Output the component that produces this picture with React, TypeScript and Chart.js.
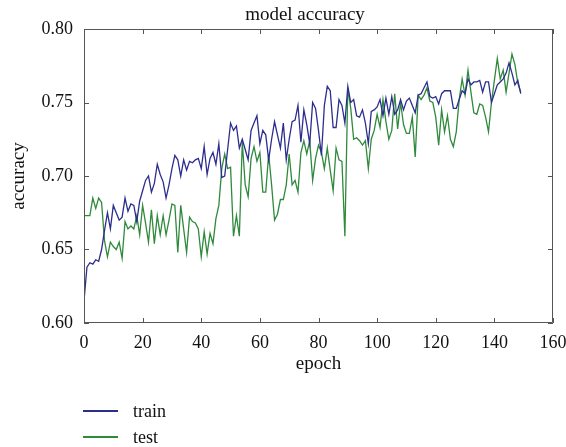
import React, { useEffect, useRef } from "react";
import { Chart, registerables } from "chart.js";

Chart.register(...registerables);

const TITLE = "model accuracy";
const X_LABEL = "epoch";
const Y_LABEL = "accuracy";
const SERIES_NAMES = ["train", "test"];
const X_TICKS = [0, 20, 40, 60, 80, 100, 120, 140, 160];
const Y_TICKS = [0.6, 0.65, 0.7, 0.75, 0.8];

const TRAIN = [
  0.615, 0.638, 0.641, 0.64, 0.643, 0.642, 0.65, 0.663, 0.675, 0.664,
  0.68, 0.675, 0.67, 0.672, 0.685, 0.676, 0.681, 0.68, 0.669, 0.683,
  0.69, 0.697, 0.7, 0.689, 0.695, 0.708, 0.701, 0.696, 0.685, 0.694,
  0.705, 0.714, 0.711, 0.7, 0.711, 0.704, 0.71, 0.709, 0.711, 0.712,
  0.705, 0.72, 0.701, 0.712, 0.716, 0.708, 0.722, 0.699, 0.7, 0.718,
  0.736, 0.731, 0.734, 0.719, 0.725, 0.718, 0.711, 0.731, 0.736, 0.741,
  0.722, 0.731, 0.728, 0.711, 0.725, 0.737, 0.728, 0.719, 0.736, 0.711,
  0.725, 0.737, 0.738, 0.748, 0.723, 0.745, 0.735, 0.722, 0.75, 0.746,
  0.731, 0.714, 0.748, 0.761, 0.758, 0.733, 0.733, 0.752, 0.748, 0.736,
  0.761, 0.75, 0.752, 0.741, 0.74, 0.745, 0.736, 0.722, 0.744, 0.745,
  0.747, 0.752, 0.741, 0.753, 0.742, 0.754, 0.742, 0.745, 0.752, 0.745,
  0.751, 0.753, 0.748, 0.743, 0.755, 0.756, 0.76, 0.764, 0.754, 0.753,
  0.754, 0.749, 0.756, 0.758, 0.758, 0.758, 0.746, 0.746, 0.752, 0.758,
  0.756, 0.766, 0.762, 0.764, 0.764, 0.765, 0.757, 0.764, 0.764, 0.75,
  0.756, 0.762, 0.764, 0.766, 0.77, 0.777, 0.77, 0.762, 0.765, 0.756,
];

const TEST = [
  0.673, 0.673, 0.673, 0.685, 0.678, 0.685, 0.682, 0.656, 0.645, 0.655,
  0.652, 0.65, 0.655, 0.644, 0.669, 0.664, 0.666, 0.664, 0.673, 0.66,
  0.68, 0.668, 0.655, 0.677, 0.654, 0.673, 0.66, 0.673, 0.66, 0.67,
  0.681, 0.68, 0.648, 0.68, 0.664, 0.648, 0.672, 0.669, 0.668, 0.664,
  0.645, 0.662, 0.647, 0.661, 0.654, 0.671, 0.68, 0.705, 0.715, 0.705,
  0.706, 0.659, 0.673, 0.659, 0.723, 0.694, 0.686, 0.712, 0.72, 0.71,
  0.716, 0.689, 0.689, 0.715, 0.694, 0.67, 0.674, 0.684, 0.684, 0.694,
  0.715, 0.694, 0.697, 0.689, 0.716, 0.724, 0.715, 0.724, 0.697, 0.712,
  0.721, 0.716, 0.705, 0.719, 0.704, 0.69, 0.719, 0.711, 0.71, 0.659,
  0.76, 0.746, 0.725, 0.726, 0.724, 0.721, 0.724, 0.705, 0.725, 0.731,
  0.742, 0.733, 0.752, 0.737, 0.725, 0.731, 0.756, 0.732, 0.75, 0.735,
  0.729, 0.729, 0.74, 0.713, 0.755, 0.752, 0.755, 0.76, 0.751, 0.75,
  0.74, 0.721, 0.745, 0.73, 0.741, 0.725, 0.72, 0.73, 0.752, 0.766,
  0.755, 0.772, 0.757, 0.743, 0.742, 0.749, 0.748, 0.74, 0.73, 0.75,
  0.765, 0.78, 0.766, 0.772, 0.757, 0.77, 0.783, 0.776, 0.763, 0.757,
];

const COLORS = ["#2c2e8e", "#2f8a3c"];
const FONT = "'Liberation Serif', 'Times New Roman', serif";
const AXIS_COLOR = "#555555";

const frameTicks = {
  id: "frameTicks",
  afterDraw(chart: any) {
    const { ctx, chartArea, scales } = chart;
    const { left, right, top, bottom } = chartArea;
    const L = 5;
    ctx.save();
    ctx.strokeStyle = AXIS_COLOR;
    ctx.lineWidth = 1;
    ctx.beginPath();
    ctx.rect(left + 0.5, top + 0.5, right - left - 1, bottom - top - 1);
    ctx.stroke();
    ctx.beginPath();
    for (const v of X_TICKS) {
      const px = Math.round(scales.x.getPixelForValue(v)) + 0.5;
      ctx.moveTo(px, bottom);
      ctx.lineTo(px, bottom - L);
      ctx.moveTo(px, top);
      ctx.lineTo(px, top + L);
    }
    for (const v of Y_TICKS) {
      const py = Math.round(scales.y.getPixelForValue(v)) + 0.5;
      ctx.moveTo(left, py);
      ctx.lineTo(left + L, py);
      ctx.moveTo(right, py);
      ctx.lineTo(right - L, py);
    }
    ctx.stroke();
    ctx.restore();
  },
};

export default function App() {
  const ref = useRef<HTMLCanvasElement | null>(null);

  useEffect(() => {
    if (!ref.current) return;
    const series = [TRAIN, TEST];
    const chart = new Chart(ref.current, {
      type: "line",
      data: {
        datasets: series.map((vals, i) => ({
          label: SERIES_NAMES[i],
          data: vals.map((v, e) => ({ x: e, y: v })),
          borderColor: COLORS[i],
          backgroundColor: COLORS[i],
          borderWidth: 1.3,
          pointRadius: 0,
          tension: 0,
          fill: false,
        })),
      },
      options: {
        responsive: false,
        animation: false,
        layout: { padding: { top: 29, right: 13, bottom: 64, left: 0 } },
        plugins: {
          legend: { display: false },
          title: { display: false },
          tooltip: { enabled: false },
        },
        scales: {
          x: {
            type: "linear",
            min: 0,
            max: 160,
            afterBuildTicks: (s: any) => {
              s.ticks = X_TICKS.map((v) => ({ value: v }));
            },
            afterFit: (s: any) => {
              s.height = 60;
              s.paddingLeft = 0;
              s.paddingRight = 0;
            },
            grid: { display: false, drawTicks: false },
            border: { display: false },
            ticks: {
              color: "#111",
              font: { family: FONT, size: 18 },
              padding: 9,
              maxRotation: 0,
              autoSkip: false,
            },
            title: {
              display: true,
              text: X_LABEL,
              color: "#111",
              font: { family: FONT, size: 19 },
              padding: { top: 0, bottom: 8 },
            },
          },
          y: {
            type: "linear",
            min: 0.6,
            max: 0.8,
            afterBuildTicks: (s: any) => {
              s.ticks = Y_TICKS.map((v) => ({ value: v }));
            },
            afterFit: (s: any) => {
              s.width = 84;
              s.paddingTop = 0;
              s.paddingBottom = 0;
            },
            grid: { display: false, drawTicks: false },
            border: { display: false },
            ticks: {
              color: "#111",
              font: { family: FONT, size: 18 },
              padding: 11,
              callback: (v: any) => Number(v).toFixed(2),
            },
            title: {
              display: true,
              text: Y_LABEL,
              color: "#111",
              font: { family: FONT, size: 19 },
              padding: { top: 8, bottom: 0 },
            },
          },
        },
      },
      plugins: [frameTicks],
    });
    return () => chart.destroy();
  }, []);

  const legendRow = (i: number, top: number) => (
    <div
      key={i}
      style={{ position: "absolute", left: 83, top: top, height: 26, display: "flex", alignItems: "center" }}
    >
      <div style={{ width: 35, height: 2, background: COLORS[i] }} />
      <span style={{ marginLeft: 15, fontFamily: FONT, fontSize: 18, color: "#111", lineHeight: "26px" }}>
        {SERIES_NAMES[i]}
      </span>
    </div>
  );

  return (
    <div style={{ position: "absolute", left: 0, top: 0, width: 566, height: 447, background: "#fff", overflow: "hidden" }}>
      <canvas ref={ref} width={566} height={447} style={{ display: "block" }} />
      <div
        style={{
          position: "absolute",
          left: 205,
          width: 200,
          top: 2,
          textAlign: "center",
          fontFamily: FONT,
          fontSize: 19,
          lineHeight: "24px",
          color: "#111",
        }}
      >
        {TITLE}
      </div>
      {legendRow(0, 398)}
      {legendRow(1, 424)}
    </div>
  );
}
